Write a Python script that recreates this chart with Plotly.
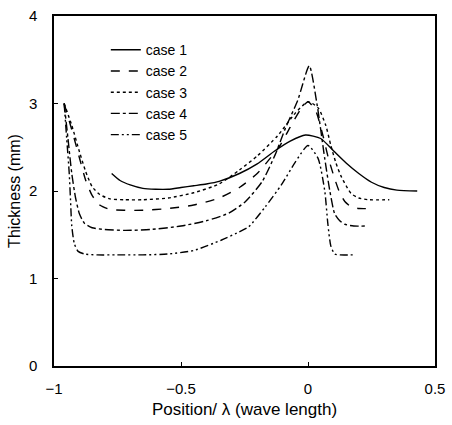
import plotly.graph_objects as go

# ---- data ----
case1_x = [-0.773, -0.74, -0.70, -0.65, -0.60, -0.55, -0.50, -0.45, -0.40, -0.35, -0.27, -0.20,
           -0.13, -0.07, -0.01, 0.05, 0.10, 0.15, 0.20, 0.25, 0.30, 0.35, 0.43]
case1_y = [2.20, 2.12, 2.07, 2.03, 2.02, 2.02, 2.04, 2.06, 2.08, 2.11, 2.20, 2.31,
           2.46, 2.57, 2.64, 2.60, 2.46, 2.32, 2.20, 2.10, 2.04, 2.01, 2.00]

case2_x = [-0.96, -0.93, -0.90, -0.875, -0.85, -0.82, -0.78, -0.72, -0.65, -0.55, -0.45, -0.35,
           -0.27, -0.20, -0.15, -0.11, -0.07, -0.03, 0.0, 0.03, 0.06, 0.08, 0.105, 0.125, 0.145,
           0.17, 0.20, 0.255]
case2_y = [3.00, 2.70, 2.38, 2.12, 1.95, 1.84, 1.79, 1.78, 1.78, 1.80, 1.84, 1.92,
           2.04, 2.20, 2.37, 2.52, 2.73, 2.93, 3.02, 2.92, 2.62, 2.38, 2.14, 1.98, 1.88,
           1.82, 1.80, 1.80]

case3_x = [-0.96, -0.93, -0.90, -0.875, -0.85, -0.82, -0.78, -0.72, -0.65, -0.55, -0.45, -0.35,
           -0.27, -0.20, -0.12, -0.05, 0.0, 0.04, 0.07, 0.09, 0.11, 0.13, 0.15, 0.17, 0.20,
           0.24, 0.32]
case3_y = [3.00, 2.75, 2.45, 2.22, 2.05, 1.96, 1.91, 1.90, 1.90, 1.92, 1.98, 2.08,
           2.24, 2.40, 2.63, 2.89, 3.02, 2.95, 2.75, 2.52, 2.32, 2.17, 2.06, 1.97, 1.92,
           1.90, 1.90]

case4_x = [-0.96, -0.945, -0.93, -0.915, -0.90, -0.88, -0.85, -0.80, -0.72, -0.62, -0.50, -0.40,
           -0.31, -0.246, -0.18, -0.13, -0.09, -0.04, 0.005, 0.035, 0.066, 0.086, 0.105, 0.125,
           0.145, 0.18, 0.227]
case4_y = [3.00, 2.60, 2.20, 1.92, 1.74, 1.63, 1.58, 1.56, 1.55, 1.56, 1.60, 1.66,
           1.75, 1.88, 2.11, 2.41, 2.71, 3.04, 3.43, 3.00, 2.37, 2.00, 1.74, 1.66,
           1.62, 1.60, 1.60]

case5_x = [-0.96, -0.95, -0.94, -0.935, -0.93, -0.92, -0.905, -0.88, -0.83, -0.75, -0.65, -0.55,
           -0.45, -0.34, -0.28, -0.234, -0.168, -0.105, -0.05, 0.0, 0.04, 0.066, 0.078, 0.09,
           0.105, 0.125, 0.176]
case5_y = [3.00, 2.60, 2.20, 1.90, 1.60, 1.40, 1.31, 1.28, 1.27, 1.27, 1.27, 1.28,
           1.32, 1.44, 1.52, 1.59, 1.82, 2.07, 2.33, 2.52, 2.37, 2.00, 1.63, 1.37,
           1.28, 1.27, 1.27]

series_names = ["case 1", "case 2", "case 3", "case 4", "case 5"]
x_tick_vals = [-1, -0.5, 0, 0.5]
x_tick_text = ["\u22121", "\u22120.5", "0", "0.5"]
y_tick_vals = [0, 1, 2, 3, 4]

xs = [case1_x, case2_x, case3_x, case4_x, case5_x]
ys = [case1_y, case2_y, case3_y, case4_y, case5_y]
dashes = ["solid", "dash", "dot", "dashdot", "8px,3px,2px,3px,2px,3px"]

fig = go.Figure()
for name, x, y, d in zip(series_names, xs, ys, dashes):
    fig.add_trace(go.Scatter(
        x=x, y=y, name=name, mode="lines",
        line=dict(color="black", width=1.4, dash=d, shape="spline", smoothing=0.6),
    ))

font_family = "Liberation Sans, Arial, sans-serif"
fig.update_layout(
    width=452, height=425,
    margin=dict(l=54, r=13, t=7, b=59),
    paper_bgcolor="white", plot_bgcolor="white",
    font=dict(family=font_family, color="black", size=14),
    showlegend=True,
    legend=dict(x=0.136, y=0.948, xanchor="left", yanchor="top",
                bgcolor="rgba(0,0,0,0)", font=dict(size=14), tracegroupgap=0),
)
fig.update_xaxes(
    range=[-1, 0.5], tickvals=x_tick_vals, ticktext=x_tick_text,
    showgrid=False, zeroline=False, showline=True, linecolor="black", linewidth=1.5,
    mirror=True, ticks="inside", ticklen=4, tickcolor="black",
    tickfont=dict(size=15), ticklabelstandoff=8,
    title=dict(text="Position/ \u03bb (wave length)", font=dict(size=17), standoff=7),
)
fig.update_yaxes(
    range=[0, 4], tickvals=y_tick_vals,
    showgrid=False, zeroline=False, showline=True, linecolor="black", linewidth=1.5,
    mirror=True, ticks="inside", ticklen=4, tickcolor="black",
    tickfont=dict(size=15), ticklabelstandoff=12,
    title=dict(text="Thickness (mm)", font=dict(size=16), standoff=4),
)

fig.write_html(
    "out.html",
    config={"displayModeBar": False},
    post_script="document.body.style.margin='0';document.body.style.overflow='hidden';",
)
